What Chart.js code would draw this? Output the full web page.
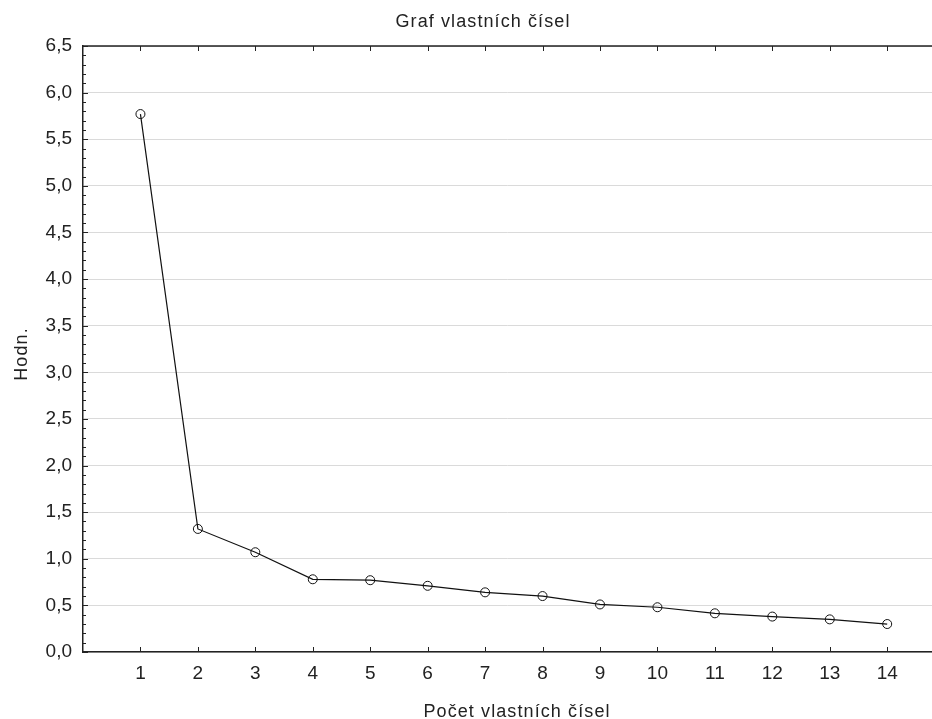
<!DOCTYPE html>
<html>
<head>
<meta charset="utf-8">
<script src="https://cdn.jsdelivr.net/npm/chart.js@4/dist/chart.umd.min.js"></script>
<style>
  html, body { margin: 0; padding: 0; background: #fff; }
  #wrap { width: 932px; height: 719px; }
</style>
</head>
<body>
<div id="wrap"><canvas id="graf" width="932" height="719"></canvas></div>
<script>
// data
var pocet = [1, 2, 3, 4, 5, 6, 7, 8, 9, 10, 11, 12, 13, 14];
var hodnoty = [5.77, 1.32, 1.07, 0.78, 0.77, 0.71, 0.64, 0.60, 0.51, 0.48, 0.415, 0.38, 0.35, 0.30];
var nadpis = "Graf vlastních čísel";
var osaX = "Počet vlastních čísel";
var osaY = "Hodn.";

var FONT = "'Liberation Sans', Arial, sans-serif";

var body = [];
for (let i = 0; i < pocet.length; i++) {
  body.push({ x: pocet[i], y: hodnoty[i] });
}

// inward ticks, top frame line and titles
var kresba = {
  id: "kresba",
  afterDraw: function (chart) {
    var ctx = chart.ctx;
    var a = chart.chartArea;
    var sx = chart.scales.x;
    var sy = chart.scales.y;
    ctx.save();
    ctx.strokeStyle = "#222";
    ctx.lineWidth = 1.5;
    ctx.beginPath();
    ctx.moveTo(a.left, a.top);
    ctx.lineTo(a.right, a.top);
    ctx.stroke();

    ctx.lineWidth = 1;
    ctx.beginPath();
    for (let k = 0; k <= 65; k++) {
      var py = Math.round(sy.getPixelForValue(k / 10)) + 0.5;
      var len = k % 5 == 0 ? 5 : 3;
      ctx.moveTo(a.left, py);
      ctx.lineTo(a.left + len, py);
    }
    for (let i = 0; i < pocet.length; i++) {
      var px = Math.round(sx.getPixelForValue(pocet[i])) + 0.5;
      ctx.moveTo(px, a.bottom);
      ctx.lineTo(px, a.bottom - 5);
      ctx.moveTo(px, a.top);
      ctx.lineTo(px, a.top + 5);
    }
    ctx.stroke();

    ctx.fillStyle = "#222";
    ctx.font = "18px " + FONT;
    ctx.letterSpacing = "1.1px";
    ctx.textAlign = "center";
    ctx.textBaseline = "alphabetic";
    ctx.fillText(nadpis, 483, 27);
    ctx.fillText(osaX, 517, 717);
    ctx.translate(27, 354);
    ctx.rotate(-Math.PI / 2);
    ctx.fillText(osaY, 0, 0);
    ctx.restore();
  },
};

var config = {
  type: "line",
  data: {
    datasets: [
      {
        data: body,
        borderColor: "#111",
        borderWidth: 1.2,
        tension: 0,
        pointRadius: 4.5,
        pointHoverRadius: 4.5,
        pointBorderWidth: 1,
        pointBorderColor: "#111",
        pointBackgroundColor: "rgba(0,0,0,0)",
        clip: false,
      },
    ],
  },
  options: {
    responsive: false,
    animation: false,
    devicePixelRatio: 1,
    layout: { autoPadding: false, padding: { top: 46, right: 0, left: 0, bottom: 0 } },
    plugins: {
      legend: { display: false },
      title: { display: false },
      tooltip: { enabled: false },
    },
    scales: {
      x: {
        type: "linear",
        min: 0,
        max: 14.78,
        afterFit: function (s) {
          s.height = 67;
          s.paddingLeft = 0;
          s.paddingRight = 0;
        },
        afterBuildTicks: function (s) {
          s.ticks = pocet.map(function (v) { return { value: v }; });
        },
        ticks: {
          font: { family: FONT, size: 19 },
          color: "#222",
          padding: 10,
          maxRotation: 0,
          autoSkip: false,
        },
        grid: { display: true, drawOnChartArea: false, drawTicks: false },
        border: { display: true, color: "#222", width: 1.5 },
      },
      y: {
        min: 0,
        max: 6.5,
        afterFit: function (s) {
          s.width = 83;
          s.paddingTop = 0;
          s.paddingBottom = 0;
        },
        ticks: {
          stepSize: 0.5,
          font: { family: FONT, size: 19 },
          color: "#222",
          padding: 11,
          callback: function (v) { return v.toFixed(1).replace(".", ","); },
        },
        grid: { color: "#dadada", lineWidth: 1, drawTicks: false },
        border: { display: true, color: "#222", width: 1.5 },
      },
    },
  },
  plugins: [kresba],
};

var graf = new Chart(document.getElementById("graf"), config);
</script>
</body>
</html>
